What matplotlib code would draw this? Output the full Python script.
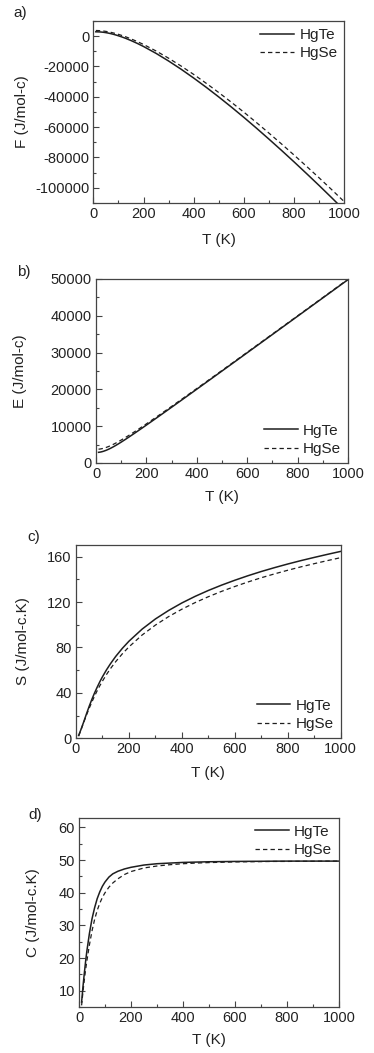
import matplotlib
matplotlib.use("Agg")
import matplotlib.pyplot as plt
from matplotlib.ticker import MultipleLocator

plt.rcParams['font.family'] = ['Liberation Sans', 'DejaVu Sans']
plt.rcParams['axes.unicode_minus'] = False

# ---------------- data ----------------
T = [10, 15, 20, 25, 30, 40, 50, 60, 70, 80, 90, 100, 115, 130, 150, 175, 200, 250, 300,
     350, 400, 450, 500, 550, 600, 650, 700, 750, 800, 850, 900, 950, 1000]

F_HgTe = [2875, 2862, 2839, 2798, 2745, 2571, 2326, 2020, 1653, 1239, 769, 258, -584, -1509,
          -2872, -4743, -6794, -11336, -16381, -21811, -27621, -33723, -40100, -46719,
          -53565, -60644, -67912, -75324, -82915, -90655, -98515, -106560, -114775]
F_HgSe = [3730, 3713, 3680, 3632, 3567, 3392, 3157, 2862, 2517, 2119, 1681, 1201, 402, -480,
          -1763, -3534, -5463, -9760, -14525, -19715, -25237, -31082, -37198, -43553,
          -50133, -56944, -63943, -71084, -78404, -85873, -93460, -101231, -109171]

E_HgTe = [2900, 2944, 3009, 3093, 3195, 3443, 3741, 4078, 4446, 4839, 5251, 5678, 6339, 7019,
          7943, 9117, 10306, 12714, 15149, 17599, 20059, 22527, 25000, 27476, 29955, 32436,
          34918, 37401, 39885, 42370, 44855, 47340, 49825]
E_HgSe = [3750, 3788, 3844, 3917, 4005, 4220, 4482, 4782, 5114, 5471, 5848, 6241, 6854, 7489,
          8362, 9486, 10637, 12990, 15385, 17805, 20243, 22693, 25152, 27617, 30087, 32561,
          35037, 37516, 39996, 42477, 44960, 47444, 49929]

S_HgTe = [2.5, 5.5, 8.5, 11.8, 15, 21.8, 28.3, 34.3, 39.9, 45, 49.8, 54.2, 60.2, 65.6, 72.1,
          79.2, 85.5, 96.2, 105.1, 112.6, 119.2, 125, 130.2, 134.9, 139.2, 143.2, 146.9,
          150.3, 153.5, 156.5, 159.3, 162, 164.6]
S_HgSe = [2, 5, 8.2, 11.4, 14.6, 20.7, 26.5, 32, 37.1, 41.9, 46.3, 50.4, 56.1, 61.3, 67.5,
          74.4, 80.5, 91, 99.7, 107.2, 113.7, 119.5, 124.7, 129.4, 133.7, 137.7, 141.4,
          144.8, 148, 151, 153.8, 156.5, 159.1]

C_HgTe = [6.5, 11, 15, 18.7, 22, 27.5, 32, 35.4, 38.2, 40.3, 42, 43.3, 44.8, 45.8, 46.6, 47.3,
          47.8, 48.5, 48.9, 49.1, 49.3, 49.4, 49.5, 49.55, 49.6, 49.63, 49.65, 49.68, 49.7,
          49.7, 49.7, 49.7, 49.7]
C_HgSe = [5.5, 9.5, 13, 16.2, 19, 24, 28.3, 31.8, 34.6, 36.8, 38.6, 40, 41.7, 43, 44.3, 45.6,
          46.5, 47.6, 48.2, 48.6, 48.9, 49.1, 49.25, 49.35, 49.45, 49.5, 49.55, 49.6, 49.6,
          49.65, 49.65, 49.7, 49.7]

labels = ["HgTe", "HgSe"]
panel_tags = ["a)", "b)", "c)", "d)"]
ylabels = ["F (J/mol-c)", "E (J/mol-c)", "S (J/mol-c.K)", "C (J/mol-c.K)"]
xlabel = "T (K)"

# ---------------- layout ----------------
W, H = 374, 1053
fig = plt.figure(figsize=(W / 100, H / 100), dpi=100)

def rect(l, r, t, b):
    return [l / W, 1 - b / H, (r - l) / W, (b - t) / H]

panels = [
    dict(rect=rect(93.3, 344.3, 21, 203), ylim=(-110000, 10000), ymaj=20000, ymin=10000,
         data=(F_HgTe, F_HgSe), loc='upper right', anchor=(1.0, 1.0),
         tag_xy=(13, 13), ylab_x=21.5, xlab_y=240),
    dict(rect=rect(96, 348, 279, 463), ylim=(0, 50000), ymaj=10000, ymin=5000,
         data=(E_HgTe, E_HgSe), loc='lower right', anchor=(1.0, 0.0),
         tag_xy=(17, 272), ylab_x=20, xlab_y=497),
    dict(rect=rect(76, 340.7, 544.7, 738.3), ylim=(0, 170.5), ymaj=40, ymin=20,
         data=(S_HgTe, S_HgSe), loc='lower right', anchor=(1.0, 0.0),
         tag_xy=(27, 537), ylab_x=23, xlab_y=773),
    dict(rect=rect(79, 339, 817.7, 1007), ylim=(5, 63), ymaj=10, ymin=5,
         data=(C_HgTe, C_HgSe), loc='upper right', anchor=(1.0, 1.0),
         tag_xy=(28, 815), ylab_x=33, xlab_y=1040),
]

line_color = '#1e1e1e'
spine_color = '#444444'
text_color = '#222222'
fs = 11

for i, p in enumerate(panels):
    ax = fig.add_axes(p['rect'])
    y1, y2 = p['data']
    ax.plot(T, y1, color=line_color, lw=1.1, ls='-', label=labels[0])
    ax.plot(T, y2, color=line_color, lw=0.9, ls=(0, (3.5, 2.5)), label=labels[1])
    ax.set_xlim(0, 1000)
    ax.set_ylim(*p['ylim'])
    ax.xaxis.set_major_locator(MultipleLocator(200))
    ax.xaxis.set_minor_locator(MultipleLocator(100))
    ax.yaxis.set_major_locator(MultipleLocator(p['ymaj']))
    ax.yaxis.set_minor_locator(MultipleLocator(p['ymin']))
    ax.tick_params(which='both', direction='in', top=False, right=False,
                   colors=spine_color, labelcolor=text_color, labelsize=10.5, width=0.8)
    ax.tick_params(which='major', length=4, pad=3)
    ax.tick_params(which='minor', length=2.5)
    for s in ax.spines.values():
        s.set_color(spine_color)
        s.set_linewidth(0.9)

    ax.set_xlabel(xlabel, fontsize=fs, color=text_color, va='center')
    ax.set_ylabel(ylabels[i], fontsize=fs, color=text_color, va='center')
    l, b, w, h = p['rect']
    ax.xaxis.set_label_coords(0.5, ((1 - p['xlab_y'] / H) - b) / h)
    ax.yaxis.set_label_coords((p['ylab_x'] / W - l) / w, 0.5)

    leg = ax.legend(loc=p['loc'], bbox_to_anchor=p['anchor'], frameon=False,
                    fontsize=fs, handlelength=2.2, handletextpad=0.35,
                    labelspacing=0.3, borderaxespad=0.25, borderpad=0.2)
    for t in leg.get_texts():
        t.set_color(text_color)

    fig.text(p['tag_xy'][0] / W, 1 - p['tag_xy'][1] / H, panel_tags[i],
             fontsize=fs, color=text_color, ha='left', va='center')

fig.savefig("out.png", dpi=100)
